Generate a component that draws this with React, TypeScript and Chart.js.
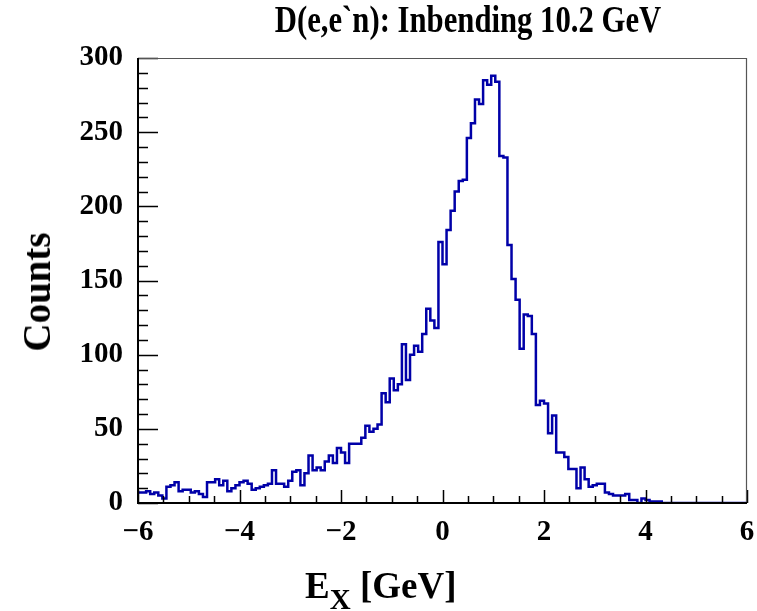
import React, { useEffect, useRef } from 'react';
import { Chart, registerables } from 'chart.js';

Chart.register(...registerables);

const TITLE = 'D(e,e`n): Inbending 10.2 GeV';
const Y_TITLE = 'Counts';
const X_TITLE_MAIN = 'E';
const X_TITLE_SUB = 'X';
const X_TITLE_UNIT = '[GeV]';

const X_MIN = -6;
const X_MAX = 6;
const Y_MIN = 0;
const Y_MAX = 300;
const X_MAJOR_TICKS = [-6, -4, -2, 0, 2, 4, 6];
const Y_MAJOR_TICKS = [0, 50, 100, 150, 200, 250, 300];
const X_MINOR_STEP = 0.5;
const Y_MINOR_STEP = 10;

// 150 bins of 0.08 GeV from -6 to 6
const COUNTS = [
  7, 7, 7, 8, 6, 7, 5, 3, 11, 12,
  14, 8, 9, 9, 7, 8, 6, 4, 14, 14,
  16, 12, 15, 8, 10, 12, 14, 15, 13, 9,
  10, 11, 12, 13, 22, 13, 13, 11, 15, 21,
  22, 12, 20, 32, 22, 24, 22, 28, 32, 27,
  37, 34, 27, 40, 40, 40, 44, 52, 48, 50,
  53, 74, 68, 84, 76, 80, 107, 83, 100, 106,
  102, 114, 131, 123, 118, 176, 161, 184, 197, 210,
  217, 218, 246, 256, 272, 269, 285, 282, 288, 284,
  234, 233, 174, 151, 137, 104, 127, 126, 114, 66,
  69, 67, 47, 59, 34, 34, 31, 23, 23, 10,
  24, 16, 11, 12, 13, 13, 7, 6, 5, 5,
  5, 6, 2, 2, 0, 3, 2, 1, 1, 1,
  0, 0, 0, 0, 0, 0, 0, 0, 0, 0,
  0, 0, 0, 0, 0, 0, 0, 0, 0, 0,
];

const LINE_COLOR = '#0000a8';
const FONT = "'Liberation Serif', 'Times New Roman', serif";

const fmt = (v: number) => (v < 0 ? '\u2212' + Math.abs(v) : String(v));

const framePlugin = {
  id: 'rootFrame',
  afterDraw(chart: any) {
    const { ctx, chartArea: a, scales } = chart;
    const xs = scales.x;
    const ys = scales.y;
    ctx.save();
    ctx.strokeStyle = '#000';
    ctx.lineWidth = 1.5;
    ctx.beginPath();
    for (let v = X_MIN; v <= X_MAX + 1e-9; v += X_MINOR_STEP) {
      const px = Math.round(xs.getPixelForValue(v)) + 0.5;
      const major = X_MAJOR_TICKS.some((t) => Math.abs(t - v) < 1e-6);
      const len = major ? 13 : 7;
      ctx.moveTo(px, a.bottom);
      ctx.lineTo(px, a.bottom - len);
    }
    for (let v = Y_MIN; v <= Y_MAX + 1e-9; v += Y_MINOR_STEP) {
      const py = Math.round(ys.getPixelForValue(v)) + 0.5;
      const major = Y_MAJOR_TICKS.some((t) => Math.abs(t - v) < 1e-6);
      const len = major ? 20 : 10;
      ctx.moveTo(a.left, py);
      ctx.lineTo(a.left + len, py);
    }
    ctx.stroke();
    // top & right frame
    ctx.strokeStyle = '#555';
    ctx.lineWidth = 1.2;
    ctx.beginPath();
    ctx.moveTo(a.left, a.top + 0.5);
    ctx.lineTo(a.right - 0.5, a.top + 0.5);
    ctx.lineTo(a.right - 0.5, a.bottom);
    ctx.stroke();
    // left & bottom axes
    ctx.strokeStyle = '#000';
    ctx.lineWidth = 2;
    ctx.beginPath();
    ctx.moveTo(a.left, a.top);
    ctx.lineTo(a.left, a.bottom);
    ctx.lineTo(a.right, a.bottom);
    ctx.stroke();
    ctx.restore();
  },
};

export default function App() {
  const canvasRef = useRef<HTMLCanvasElement | null>(null);

  useEffect(() => {
    const canvas = canvasRef.current;
    if (!canvas) return;
    const n = COUNTS.length;
    const w = (X_MAX - X_MIN) / n;
    const points = COUNTS.map((c, i) => ({ x: X_MIN + i * w, y: c }));
    points.push({ x: X_MAX, y: COUNTS[n - 1] });

    const chart = new Chart(canvas, {
      type: 'line',
      data: {
        datasets: [
          {
            data: points,
            stepped: 'after',
            borderColor: LINE_COLOR,
            borderWidth: 2.5,
            pointRadius: 0,
            fill: false,
            tension: 0,
          },
        ],
      },
      options: {
        animation: false,
        responsive: false,
        devicePixelRatio: 1,
        layout: { padding: { top: 58, right: 10, left: 0, bottom: 0 } },
        plugins: {
          legend: { display: false },
          tooltip: { enabled: false },
          title: { display: false },
        },
        scales: {
          x: {
            type: 'linear',
            min: X_MIN,
            max: X_MAX,
            afterFit: (s: any) => {
              s.height = 108;
              s.paddingLeft = 0;
              s.paddingRight = 0;
            },
            afterBuildTicks: (s: any) => {
              s.ticks = X_MAJOR_TICKS.map((v) => ({ value: v }));
            },
            grid: { display: false, drawTicks: false },
            border: { display: false },
            ticks: {
              autoSkip: false,
              maxRotation: 0,
              padding: 12,
              color: '#000',
              font: { family: FONT, size: 29, weight: 'bold' },
              callback: (v: any) => fmt(Number(v)),
            },
          },
          y: {
            type: 'linear',
            min: Y_MIN,
            max: Y_MAX,
            afterFit: (s: any) => {
              s.width = 138;
              s.paddingTop = 0;
              s.paddingBottom = 0;
            },
            afterBuildTicks: (s: any) => {
              s.ticks = Y_MAJOR_TICKS.map((v) => ({ value: v }));
            },
            grid: { display: false, drawTicks: false },
            border: { display: false },
            ticks: {
              autoSkip: false,
              padding: 15,
              color: '#000',
              font: { family: FONT, size: 29, weight: 'bold' },
              callback: (v: any) => fmt(Number(v)),
            },
          },
        },
      },
      plugins: [framePlugin],
    } as any);

    return () => chart.destroy();
  }, []);

  return (
    <div
      style={{
        position: 'fixed',
        left: 0,
        top: 0,
        width: 757,
        height: 611,
        background: '#fff',
        overflow: 'hidden',
        fontFamily: FONT,
        fontWeight: 'bold',
        color: '#000',
      }}
    >
      <canvas ref={canvasRef} width={757} height={611} style={{ display: 'block' }} />
      <div
        style={{
          position: 'absolute',
          left: 468,
          top: 0,
          fontSize: 37,
          lineHeight: '40px',
          whiteSpace: 'nowrap',
          transform: 'translateX(-50%) scaleX(0.83)',
        }}
      >
        {TITLE}
      </div>
      <div
        style={{
          position: 'absolute',
          left: 37,
          top: 292,
          fontSize: 39,
          lineHeight: '44px',
          whiteSpace: 'nowrap',
          transform: 'translate(-50%, -50%) rotate(-90deg)',
        }}
      >
        {Y_TITLE}
      </div>
      <div
        style={{
          position: 'absolute',
          left: 305,
          top: 564,
          fontSize: 37,
          lineHeight: '44px',
          whiteSpace: 'nowrap',
        }}
      >
        {X_TITLE_MAIN}
        <span style={{ fontSize: 29, position: 'relative', top: 11 }}>{X_TITLE_SUB}</span>
        {' ' + X_TITLE_UNIT}
      </div>
    </div>
  );
}
